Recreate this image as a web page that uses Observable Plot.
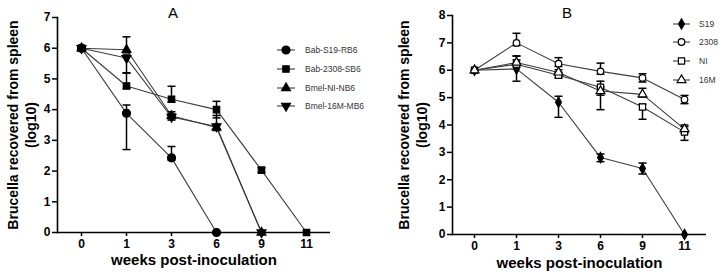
<!DOCTYPE html>
<html>
<head>
<meta charset="utf-8">
<script src="https://cdn.jsdelivr.net/npm/d3@7"></script>
<script src="https://cdn.jsdelivr.net/npm/@observablehq/plot@0.6"></script>
<style>
  body { margin: 0; background: #fff; }
  #wrap { position: relative; width: 722px; height: 274px; overflow: hidden; font-family: "Liberation Sans", Arial, sans-serif; }
  #wrap svg { position: absolute; top: 0; }
</style>
</head>
<body>
<div id="wrap"></div>
<script>
// Sampling times (weeks post-inoculation)
const weeks = ["0", "1", "3", "6", "9", "11"];
const yLabel = "Brucella recovered from spleen\n(log10)";
const xLabel = "weeks post-inoculation";

// Panel A: log10 CFU per spleen, with upper / lower error extents
const seriesA = ["Bab-S19-RB6", "Bab-2308-SB6", "Bmel-NI-NB6", "Bmel-16M-MB6"];
const s19A      = [6, 3.88, 2.43, 0, null, null];
const s19AUp    = [0, 0.27, 0.37, 0, null, null];
const s19ADown  = [0, 1.18, 0.08, 0, null, null];
const b2308A     = [6, 4.77, 4.34, 4.0, 2.03, 0];
const b2308AUp   = [0, 0.42, 0.42, 0.27, 0.08, 0];
const b2308ADown = [0, 0.08, 0.1, 0.27, 0.08, 0];
const niA      = [6, 5.95, 3.8, 3.42, 0, null];
const niAUp    = [0, 0.42, 0.13, 0.1, 0, null];
const niADown  = [0, 0.1, 0.1, 0.1, 0, null];
const m16A     = [6, 5.68, 3.76, 3.45, 0, null];
const m16AUp   = [0, 0.1, 0.1, 0.36, 0, null];
const m16ADown = [0, 0.48, 0.1, 0.1, 0, null];

// Panel B
const seriesB = ["S19", "2308", "NI", "16M"];
const s19B      = [6, 6.05, 4.83, 2.81, 2.41, 0];
const s19BUp    = [0, 0.47, 0.22, 0.13, 0.2, 0];
const s19BDown  = [0, 0.45, 0.55, 0.15, 0.2, 0];
const b2308B     = [6, 7.0, 6.24, 5.96, 5.72, 4.93];
const b2308BUp   = [0, 0.35, 0.22, 0.3, 0.15, 0.15];
const b2308BDown = [0, 0.1, 0.1, 0.1, 0.15, 0.15];
const niB      = [6, 6.22, 5.82, 5.38, 4.66, 3.74];
const niBUp    = [0, 0.3, 0.1, 0.22, 0.1, 0.2];
const niBDown  = [0, 0.1, 0.1, 0.82, 0.45, 0.3];
const m16B     = [6, 6.28, 5.92, 5.24, 5.12, 3.85];
const m16BUp   = [0, 0.1, 0.1, 0.15, 0.22, 0.15];
const m16BDown = [0, 0.1, 0.1, 0.15, 0.1, 0.15];

// Custom symbols: downward triangle and a flat error-bar cap
const sqrt3 = Math.sqrt(3);
const triangleDown = {
  draw(ctx, size) {
    const y = -Math.sqrt(size / (sqrt3 * 3));
    ctx.moveTo(0, -y * 2);
    ctx.lineTo(-sqrt3 * y, y);
    ctx.lineTo(sqrt3 * y, y);
    ctx.closePath();
  }
};
const cap = {
  draw(ctx, size) {
    const w = Math.sqrt(size / Math.PI);
    ctx.moveTo(-w, 0);
    ctx.lineTo(w, 0);
  }
};

function table(name, vals, up, down) {
  return weeks.map((w, i) => ({
    series: name, week: w, value: vals[i],
    hi: vals[i] == null ? null : vals[i] + up[i],
    lo: vals[i] == null ? null : vals[i] - down[i]
  })).filter(d => d.value != null);
}

const dataA = [
  table(seriesA[0], s19A, s19AUp, s19ADown),
  table(seriesA[1], b2308A, b2308AUp, b2308ADown),
  table(seriesA[2], niA, niAUp, niADown),
  table(seriesA[3], m16A, m16AUp, m16ADown)
];
const dataB = [
  table(seriesB[0], s19B, s19BUp, s19BDown),
  table(seriesB[1], b2308B, b2308BUp, b2308BDown),
  table(seriesB[2], niB, niBUp, niBDown),
  table(seriesB[3], m16B, m16BUp, m16BDown)
];

const styleA = [
  {symbol: "circle", r: 4, fill: "black"},
  {symbol: "square", r: 3.6, fill: "black"},
  {symbol: "triangle", r: 3.3, fill: "black"},
  {symbol: triangleDown, r: 3.3, fill: "black"}
];
const styleB = [
  {symbol: "diamond", r: 3.1, fill: "black"},
  {symbol: "circle", r: 3.3, fill: "white"},
  {symbol: "square", r: 3.5, fill: "white"},
  {symbol: "triangle", r: 3.3, fill: "white"}
];

function panel({data, styles, yMax, width, marginLeft, marginRight, marginTop, marginBottom, labelDx, xlabDy}) {
  const marks = [];
  for (const d of data) {
    marks.push(Plot.line(d, {x: "week", y: "value", stroke: "#3c3c3c", strokeWidth: 1.1}));
  }
  for (const d of data) {
    marks.push(Plot.ruleX(d.filter(r => r.hi > r.lo), {x: "week", y1: "lo", y2: "hi", stroke: "black", strokeWidth: 1.5}));
    marks.push(Plot.dot(d.filter(r => r.hi > r.value), {x: "week", y: "hi", symbol: cap, r: 4, fill: "none", stroke: "black", strokeWidth: 1.5}));
    marks.push(Plot.dot(d.filter(r => r.lo < r.value), {x: "week", y: "lo", symbol: cap, r: 4, fill: "none", stroke: "black", strokeWidth: 1.5}));
  }
  data.forEach((d, i) => {
    const s = styles[i];
    marks.push(Plot.dot(d, {x: "week", y: "value", symbol: s.symbol, r: s.r, fill: s.fill, stroke: "black", strokeWidth: 1.2}));
  });
  marks.push(
    Plot.ruleY([0], {stroke: "black", strokeWidth: 1.6}),
    Plot.frame({anchor: "left", stroke: "black", strokeWidth: 1.6}),
    Plot.axisY({ticks: d3.range(0, yMax + 1), tickFormat: "d", tickSize: 5, tickPadding: 2, strokeWidth: 1.5, label: null, fontSize: 12, fontWeight: "bold"}),
    Plot.axisX({tickSize: 4, tickPadding: 3, strokeWidth: 1.5, label: null, fontSize: 12, fontWeight: "bold"}),
    Plot.text([yLabel], {text: d => d, frameAnchor: "left", textAnchor: "middle", rotate: -90, dx: labelDx, fontSize: 14, fontWeight: "bold", lineHeight: 1.28}),
    Plot.text([xLabel], {text: d => d, frameAnchor: "bottom", dy: xlabDy, fontSize: 15, fontWeight: "bold"})
  );
  return Plot.plot({
    width, height: 274, marginLeft, marginRight, marginTop, marginBottom,
    style: {fontFamily: "'Liberation Sans', Arial, sans-serif", color: "black", background: "white"},
    x: {type: "point", domain: weeks, padding: 0.5},
    y: {domain: [0, yMax]},
    marks
  });
}

const wrap = document.getElementById("wrap");
const plotA = panel({data: dataA, styles: styleA, yMax: 7, width: 360, marginLeft: 57, marginRight: 30, marginTop: 17, marginBottom: 42, labelDx: -36, xlabDy: 32});
plotA.style.left = "0px";
wrap.appendChild(plotA);
const plotB = panel({data: dataB, styles: styleB, yMax: 8, width: 362, marginLeft: 92, marginRight: 16, marginTop: 15, marginBottom: 40, labelDx: -40, xlabDy: 33});
plotB.style.left = "360px";
wrap.appendChild(plotB);

// Panel titles and legends
const overlay = d3.select(wrap).append("svg")
  .attr("width", 722).attr("height", 274)
  .style("left", "0px").style("pointer-events", "none")
  .style("font-family", "'Liberation Sans', Arial, sans-serif");

overlay.append("text").attr("x", 173).attr("y", 13).attr("text-anchor", "middle").attr("dy", "0.35em").attr("font-size", 15).text("A");
overlay.append("text").attr("x", 567).attr("y", 13).attr("text-anchor", "middle").attr("dy", "0.35em").attr("font-size", 15).text("B");

const d3Symbols = {circle: d3.symbolCircle, square: d3.symbolSquare, triangle: d3.symbolTriangle, diamond: d3.symbolDiamond};
function legend(names, styles, x0, x1, tx, ys) {
  names.forEach((name, i) => {
    const s = styles[i];
    const g = overlay.append("g");
    g.append("line").attr("x1", x0).attr("x2", x1).attr("y1", ys[i]).attr("y2", ys[i]).attr("stroke", "#3c3c3c").attr("stroke-width", 1.1);
    g.append("path")
      .attr("transform", `translate(${(x0 + x1) / 2},${ys[i]})`)
      .attr("d", d3.symbol(typeof s.symbol === "string" ? d3Symbols[s.symbol] : s.symbol, Math.PI * s.r * s.r)())
      .attr("fill", s.fill).attr("stroke", "black").attr("stroke-width", 1.2);
    g.append("text").attr("x", tx).attr("y", ys[i]).attr("dy", "0.35em").attr("font-size", 8.5).attr("fill", "#333").text(name);
  });
}
legend(seriesA, styleA, 277, 295, 305, [50, 69, 88, 106]);
legend(seriesB, styleB, 673, 690, 699, [24, 42, 61, 80]);
</script>
</body>
</html>
